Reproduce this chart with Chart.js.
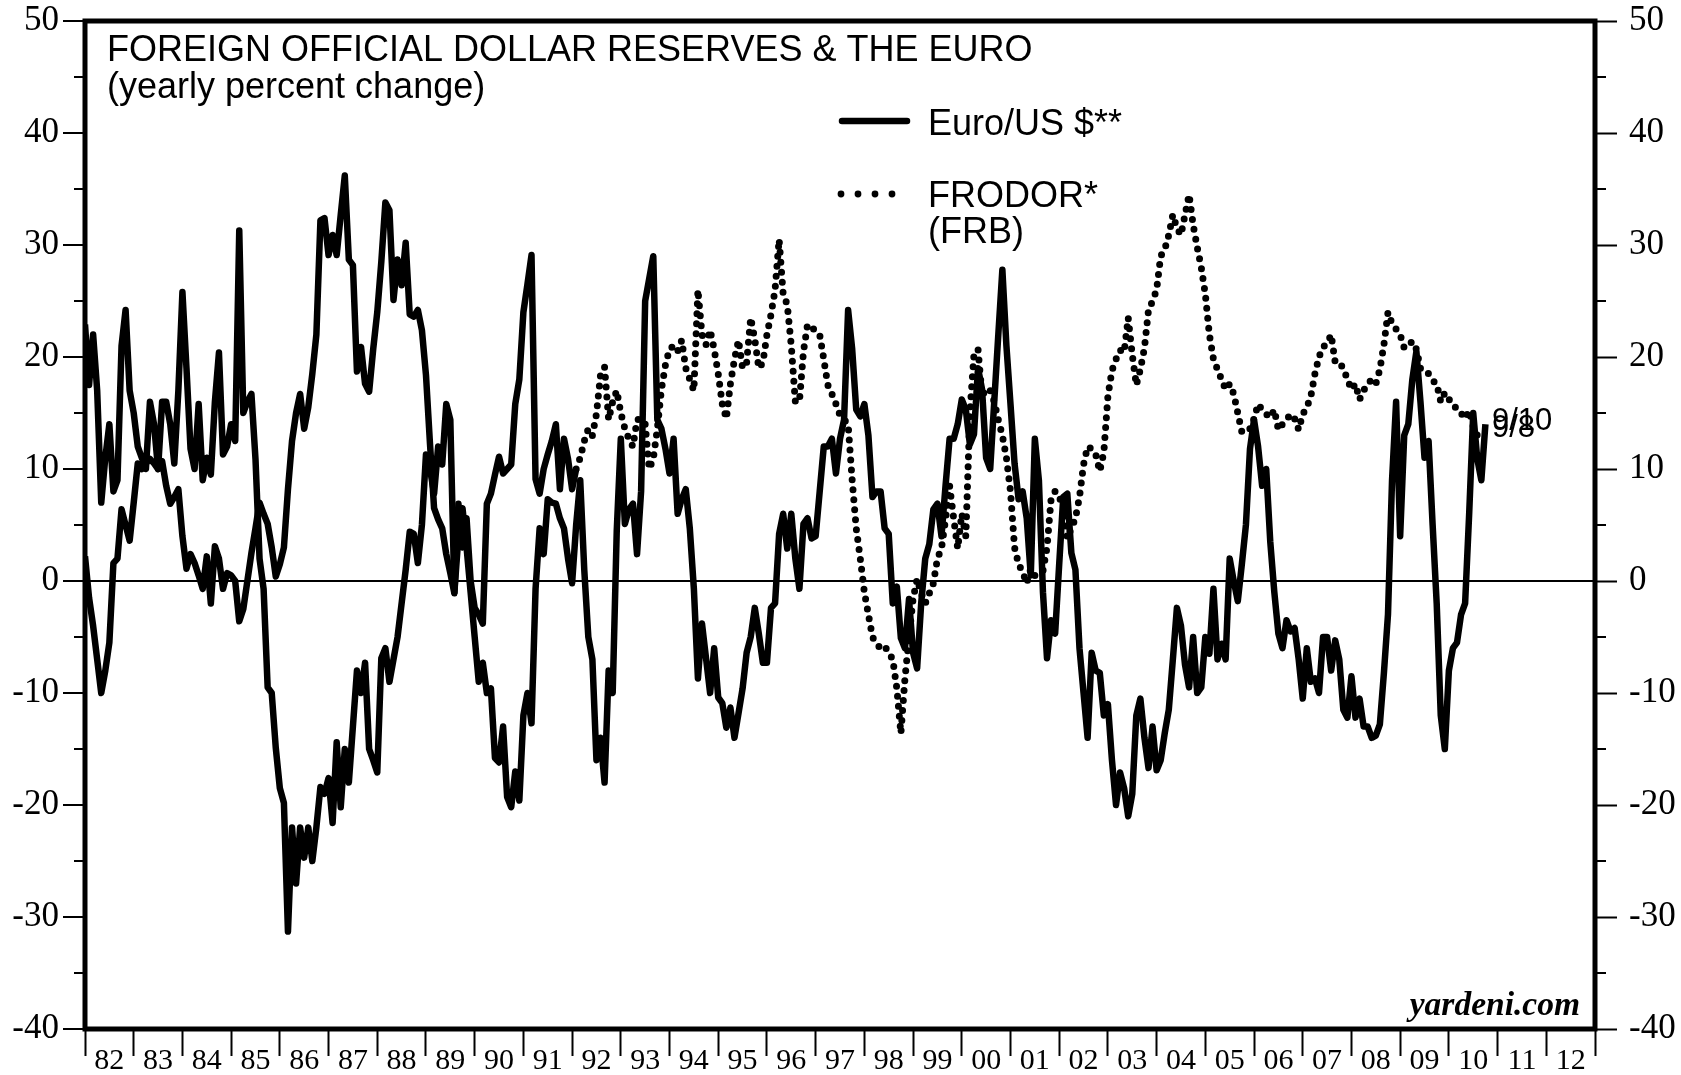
<!DOCTYPE html>
<html>
<head>
<meta charset="utf-8">
<title>Foreign Official Dollar Reserves &amp; the Euro</title>
<script src="https://cdn.jsdelivr.net/npm/chart.js@4.4.1/dist/chart.umd.min.js"></script>
<style>
  html, body { margin: 0; padding: 0; background: #fff; }
  #wrap { width: 1681px; height: 1075px; position: relative; }
</style>
</head>
<body>
<div id="wrap"><canvas id="reservesChart"></canvas></div>
<script>
/* ==========================================
   Data (monthly, yearly percent change)
========================================== */
const firstYear = 1982;
const yearLabels = ["82", "83", "84", "85", "86", "87", "88", "89", "90", "91", "92",
  "93", "94", "95", "96", "97", "98", "99", "00", "01", "02", "03", "04", "05", "06",
  "07", "08", "09", "10", "11", "12"];

const yMajorTicks = [-40, -30, -20, -10, 0, 10, 20, 30, 40, 50];
const yMinorTicks = [-35, -25, -15, -5, 5, 15, 25, 35, 45];

// Euro/US $, Jan 1982 onwards
const euroUsd = [
  22.9, 17.5, 22, 17, 7, 11, 14, 8, 9, 21, 24.2, 17,
  15, 12, 11, 10, 16, 14, 10, 16, 16, 14, 10.5, 17,
  25.8, 19, 11.8, 10, 15.8, 9, 11, 9.5, 16, 20.4, 11.3, 12,
  14, 12.5, 31.3, 15, 16, 16.7, 10.9, 2, -0.7, -9.5, -10, -14.9,
  -18.5, -19.8, -31.3, -22, -27, -22, -24.7, -22, -25, -22, -18.4, -19,
  -17.6, -21.6, -14.4, -20.2, -15, -18, -13, -8, -10, -7.3, -15, -16,
  -17.1, -6.9, -6, -9, -7, -5, -2, 1, 4.4, 4.2, 1.6, 5,
  11.3, 10, 7.8, 12, 10.4, 15.8, 14.4, -1, 4, 6.5, 3, -1,
  -5, -9, -7.3, -10, -9.6, -15.8, -16.2, -13, -19.3, -20.2, -17, -19.6,
  -12, -10, -12.7, -0.7, 4.7, 2.4, 7.3, 7, 6.9, 5.6, 4.7, 2,
  -0.2, 5, 9, 1, -5, -7, -16, -14, -18, -8, -10, 4.5,
  12.7, 5.1, 6.4, 6.9, 2.4, 8, 25, 27, 29, 14.4, 13.6, 11.8,
  9.6, 12.7, 6, 7.3, 8.2, 4.7, -0.7, -8.7, -3.8, -6.9, -10, -6,
  -10.4, -10.9, -13.1, -11.3, -14, -11.8, -9.6, -6.4, -5, -2.4, -4.7, -7.3,
  -7.3, -2.4, -2, 4.2, 6, 2.9, 6, 2, -0.7, 5.1, 5.6, 3.8,
  4, 8, 12, 12, 12.7, 9.6, 12.7, 14.4, 24.2, 20.7, 15.3, 14.7,
  15.8, 13, 7.5, 8, 8, 4.7, 4.2, -2, -0.5, -5.1, -6, -1.6,
  -6.4, -7.8, -2, 2, 3.3, 6.4, 6.9, 4, 8.5, 12.7, 12.7, 14,
  16.2, 15.3, 12.2, 13.1, 19, 17.1, 11, 10, 16, 22, 27.8, 21,
  15.8, 10.5, 7.3, 8, 5.6, 0.5, 12.7, 9, -1, -6.9, -3.5, -4.7,
  1.5, 7.5, 7.8, 2.5, 1, -6, -10, -14, -6.4, -8, -8.2, -12,
  -11, -16, -20, -17.1, -18.5, -21, -19, -12, -10.5, -14, -16.7, -13,
  -16.9, -16, -13.6, -11.5, -7, -2.4, -4, -7.5, -9.5, -5, -10, -9.5,
  -5, -6.5, -0.7, -7, -5.6, -7, 2, 0, -1.8, 1.5, 5, 11.8,
  14.4, 12, 8.5, 10, 3.5, -1, -4.7, -6, -3.5, -4.5, -4.2, -7,
  -10.5, -6, -9, -8.7, -10, -5, -5, -8, -5.3, -7, -11.5, -12.2,
  -8.5, -12.2, -10.5, -13, -13, -14, -13.8, -12.8, -8.2, -3, 9, 16,
  4, 13, 14, 18, 20.5, 16, 11, 12.5, 5, -2, -12, -15,
  -8, -6, -5.5, -3, -2, 6, 15, 10.9, 9, 14
];

// FRODOR, older monthly figures drawn solid, Jan 1982 - Feb 1992
const frodorEarly = [
  2.2, -1.5, -4, -7, -10, -8, -5.5, 1.6, 2, 6.4, 5, 3.6,
  7, 10.5, 10, 10.5, 10.9, 10.5, 10, 10.7, 8.5, 6.9, 7.5, 8.2,
  4, 1.1, 2.4, 1.6, 0.5, -0.7, 2.2, -2, 3.1, 2, -0.7, 0.7,
  0.5, 0, -3.6, -2.5, 0, 2.5, 4.7, 7, 6, 5.1, 3, 0.4,
  1.5, 3, 8.2, 12.5, 15, 16.7, 13.6, 15.5, 18.5, 22, 32.2, 32.4,
  29.1, 30.9, 29.1, 32.7, 36.2, 28.7, 28.2, 18.7, 20.9, 17.6, 16.9, 20.7,
  24, 28.5, 33.8, 33.1, 25.1, 28.7, 26.4, 30.2, 23.8, 23.6, 24.2, 22.4,
  18.4, 12.2, 6.5, 5.5, 4.7, 2.4, 0.7, -1.1, 6.9, 3, 5.6, 0,
  -2.4, -3, -3.8, 6.9, 7.8, 9.5, 11.1, 9.6, 10, 10.4, 15.8, 18,
  24, 26.5, 29.1, 9.1, 7.8, 10, 11.3, 12.5, 14, 8.2, 12.7, 10.9,
  8.2, 10
];

// FRODOR* (FRB), dotted, from Feb 1992 (month 121 after Jan 1982)
const frodorStartMonth = 121;
const frodor = [
  10, 11, 12.5, 13.6, 13, 14.9, 18.4, 19.1, 14.4, 16, 17,
  15, 13.6, 12.7, 12, 14.4, 14.5, 14, 10, 10.9, 13.6, 17.1, 19.3,
  20.7, 21, 20.5, 21.5, 19, 18, 17, 26, 22, 21.1, 22.4, 20.7,
  18.5, 15.8, 14.5, 17.6, 19.8, 21.5, 19, 19.5, 23.5, 21.6, 19, 19.5,
  22, 23.8, 26, 30.5, 25.6, 24.7, 21, 16, 16, 20.5, 22.9, 22.6,
  22.4, 22, 19.8, 17.5, 16.7, 15.8, 14.8, 14.4, 14, 9, 4.7, 2,
  -1, -3, -5, -5.6, -6, -5.8, -6.4, -7, -9.6, -13.6, -8.7, -5,
  -1.6, 0.2, -1.1, -2, -1.1, -0.2, 2, 2.9, 5.5, 8.5, 5.6, 2.9,
  6, 4, 15, 20.2, 20.7, 16.5, 17.2, 17, 16, 14.4, 13, 11,
  8, 3, 1.5, 0.8, -0.2, 1.1, 0.5, 0.7, 0.9, 3, 7.3, 8,
  7.3, 7.3, 3.8, 4.7, 5.6, 7.5, 10.4, 12, 11.8, 11.3, 9.8, 11.5,
  16.5, 18.8, 19.8, 20.6, 20.4, 23.5, 20.2, 17.5, 18.9, 20.8, 24.2, 25,
  26, 29, 29.6, 30.9, 32.7, 31.5, 30.9, 32.7, 34.5, 31.8, 29.8, 28,
  25.6, 22, 19.8, 18.9, 18, 17.1, 17.6, 16.7, 15, 13.3, 13.6, 13.6,
  14.5, 15.8, 15.3, 14.9, 14.6, 15.3, 13.5, 14, 14.4, 14.9, 14.5, 13.5,
  14.9, 15.5, 16.5, 18.5, 20, 20.9, 21.2, 22, 19.5, 19.5, 19, 18,
  17.1, 17.6, 16.2, 17, 17.6, 18, 17.6, 18.9, 21.1, 24, 23, 22.5,
  22, 20.8, 21, 21.4, 20.7, 19, 18.9, 18.5, 17.9, 17.6, 16, 16.8,
  16.2, 16, 15.2, 15, 14.5, 15.2, 13.8, 13
];

const endLabels = ["9/10", "9/8"];

/* ==========================================
   Helpers
========================================== */
const toPoints = (vals, startMonth) =>
  vals.map((v, i) => ({ x: firstYear + (startMonth + i) / 12, y: v }));

// x ticks: year boundaries (tick marks) and mid-years (labels)
const xTickValues = [];
yearLabels.forEach((lab, i) => {
  xTickValues.push(firstYear + i);
  xTickValues.push(firstYear + i + 0.5);
});
xTickValues.push(firstYear + yearLabels.length);

const SANS = '"Liberation Sans", Arial, sans-serif';
const SERIF = '"Liberation Serif", "Times New Roman", serif';

Chart.defaults.color = "#000";
Chart.defaults.font.family = SERIF;

/* ==========================================
   Frame, minor ticks and annotations
========================================== */
const decorations = {
  id: "decorations",
  afterDraw(chart) {
    const { ctx, chartArea: a, scales } = chart;
    ctx.save();
    ctx.strokeStyle = "#000";
    ctx.fillStyle = "#000";

    // minor ticks on both y axes
    ctx.lineWidth = 2;
    yMinorTicks.forEach(v => {
      const py = Math.round(scales.y.getPixelForValue(v));
      ctx.beginPath();
      ctx.moveTo(a.left - 11, py);
      ctx.lineTo(a.left, py);
      ctx.moveTo(a.right, py);
      ctx.lineTo(a.right + 11, py);
      ctx.stroke();
    });

    // heavy frame
    ctx.lineWidth = 5;
    ctx.strokeRect(a.left, a.top, a.right - a.left, a.bottom - a.top);

    // title
    ctx.textAlign = "left";
    ctx.textBaseline = "alphabetic";
    ctx.font = "36px " + SANS;
    ctx.fillText("FOREIGN OFFICIAL DOLLAR RESERVES & THE EURO", 107, 61);
    ctx.fillText("(yearly percent change)", 107, 98);

    // legend
    ctx.lineWidth = 6.5;
    ctx.lineCap = "round";
    ctx.beginPath();
    ctx.moveTo(842, 121);
    ctx.lineTo(907, 121);
    ctx.stroke();
    ctx.fillText("Euro/US $**", 928, 135);
    for (let k = 0; k < 4; k++) {
      ctx.beginPath();
      ctx.arc(841 + k * 17, 194, 3.4, 0, Math.PI * 2);
      ctx.fill();
    }
    ctx.fillText("FRODOR*", 928, 207);
    ctx.fillText("(FRB)", 928, 243);

    // latest-date tags
    ctx.font = "31px " + SANS;
    ctx.fillText(endLabels[0], 1492, 430);
    ctx.fillText(endLabels[1], 1492, 437);

    // source
    ctx.textAlign = "right";
    ctx.font = "italic bold 33.5px " + SERIF;
    ctx.fillText("yardeni.com", 1580, 1015);

    ctx.restore();
  }
};

/* ==========================================
   Chart
========================================== */
const yAxisBase = {
  type: "linear",
  min: -40,
  max: 50,
  border: { display: false },
  ticks: {
    stepSize: 10,
    font: { family: SERIF, size: 35 },
    padding: 4
  },
  afterBuildTicks: axis => {
    axis.ticks = yMajorTicks.map(v => ({ value: v }));
  }
};

new Chart(document.getElementById("reservesChart"), {
  type: "line",
  data: {
    datasets: [
      {
        label: "Euro/US $**",
        data: toPoints(euroUsd, 0),
        borderColor: "#000",
        borderWidth: 6.5,
        borderJoinStyle: "round",
        pointRadius: 0,
        tension: 0
      },
      {
        label: "FRODOR (early)",
        data: toPoints(frodorEarly, 0),
        borderColor: "#000",
        borderWidth: 6.5,
        borderJoinStyle: "round",
        pointRadius: 0,
        tension: 0
      },
      {
        label: "FRODOR* (FRB)",
        data: toPoints(frodor, frodorStartMonth),
        borderColor: "#000",
        borderWidth: 7,
        borderDash: [0, 10],
        borderCapStyle: "round",
        borderJoinStyle: "round",
        pointRadius: 0,
        tension: 0
      }
    ]
  },
  options: {
    responsive: true,
    maintainAspectRatio: false,
    animation: false,
    layout: { padding: { top: 21, left: 0, right: 0, bottom: 0 } },
    plugins: {
      legend: { display: false },
      tooltip: { enabled: false }
    },
    scales: {
      x: {
        type: "linear",
        position: "bottom",
        min: firstYear,
        max: firstYear + yearLabels.length,
        border: { display: false },
        grid: {
          drawOnChartArea: false,
          drawTicks: true,
          tickLength: 27,
          tickWidth: 2,
          tickColor: ctx => (Number.isInteger(ctx.tick.value) ? "#000" : "rgba(0,0,0,0)")
        },
        ticks: {
          autoSkip: false,
          maxRotation: 0,
          minRotation: 0,
          padding: -13,
          font: { family: SERIF, size: 30 },
          callback: value =>
            Number.isInteger(value) ? "" : yearLabels[Math.floor(value) - firstYear]
        },
        afterBuildTicks: axis => {
          axis.ticks = xTickValues.map(v => ({ value: v }));
        },
        afterFit: axis => {
          axis.height = 46;
          axis.paddingLeft = 0;
          axis.paddingRight = 0;
        }
      },
      y: {
        ...yAxisBase,
        position: "left",
        grid: {
          drawTicks: true,
          tickLength: 22,
          tickWidth: 2,
          tickColor: "#000",
          lineWidth: 2,
          color: ctx => (ctx.tick.value === 0 ? "#000" : "rgba(0,0,0,0)")
        },
        afterFit: axis => {
          axis.width = 85;
          axis.paddingTop = 0;
          axis.paddingBottom = 0;
        }
      },
      y2: {
        ...yAxisBase,
        position: "right",
        ticks: { ...yAxisBase.ticks, padding: 12 },
        grid: {
          drawOnChartArea: false,
          drawTicks: true,
          tickLength: 22,
          tickWidth: 2,
          tickColor: "#000"
        },
        afterFit: axis => {
          axis.width = 86;
          axis.paddingTop = 0;
          axis.paddingBottom = 0;
        }
      }
    }
  },
  plugins: [decorations]
});
</script>
</body>
</html>
